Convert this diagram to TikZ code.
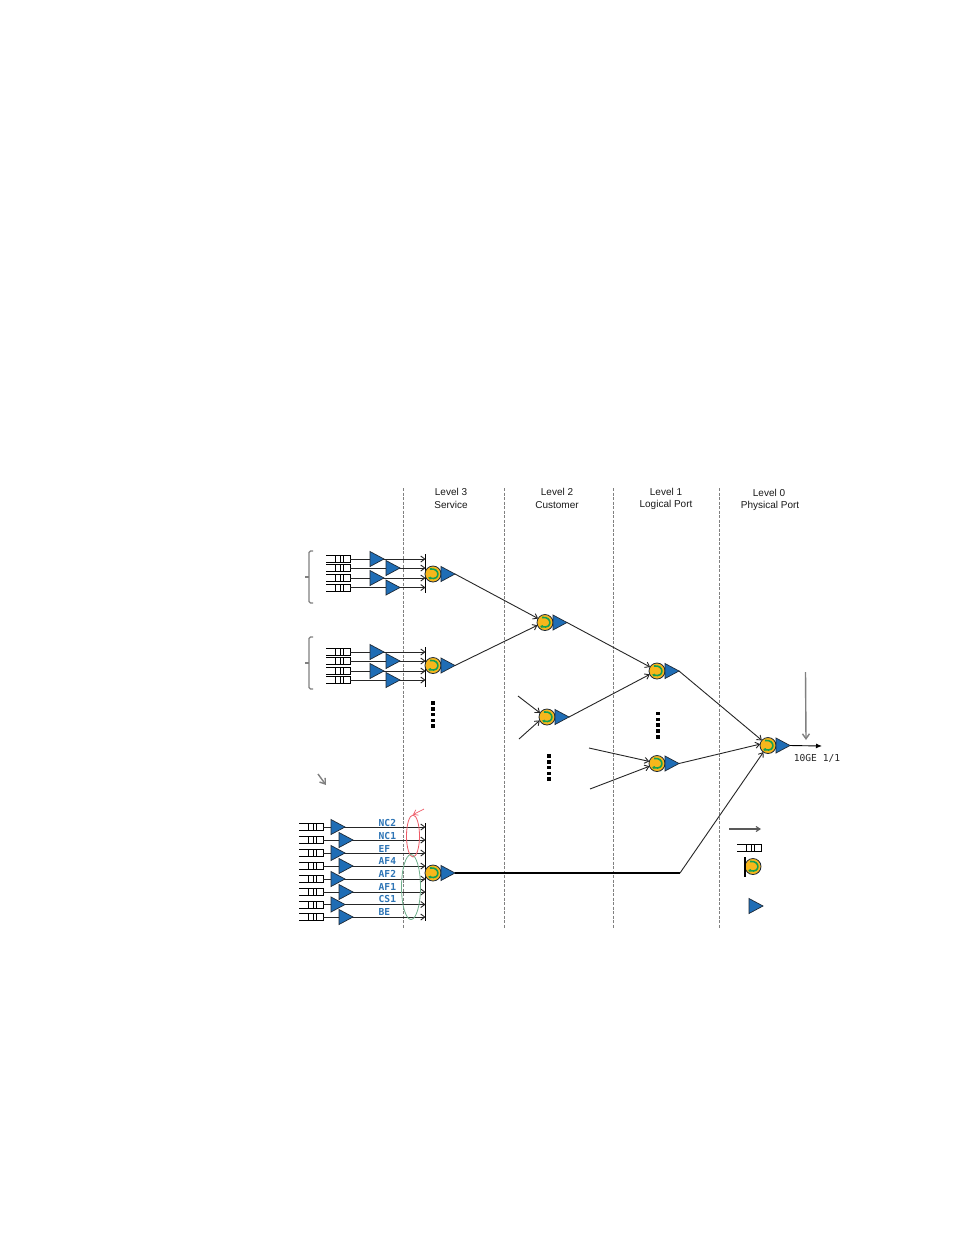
\documentclass[tikz,border=0pt]{standalone}
\usepackage{fontspec}
\setmainfont{Liberation Sans}
\newfontfamily\labelmono{DejaVu Sans Mono}
\usetikzlibrary{arrows.meta,shapes.geometric,calc}
\definecolor{shaperblue}{HTML}{1F6DB5}
\definecolor{schedgold}{HTML}{F7B71C}
\definecolor{schedgreen}{HTML}{14A050}
\definecolor{classblue}{HTML}{2E75B6}
\definecolor{outline}{HTML}{1F2A36}
\definecolor{guide}{HTML}{808080}
\definecolor{ovalred}{HTML}{EE5A66}
\definecolor{ovalgreen}{HTML}{6FB08C}
\tikzset{
  x=1pt,y=-1pt,
  shaper/.style={shape=isosceles triangle,isosceles triangle stretches,anchor=lower side,
    minimum width=15pt,minimum height=14pt,inner sep=0pt,outer sep=0pt,
    fill=shaperblue,draw=outline,line width=0.7pt},
  sched/.style={circle,minimum size=16pt,inner sep=0pt,outer sep=0pt,
    fill=schedgold,draw=outline,line width=0.8pt},
  qbox/.style={minimum width=24pt,minimum height=7pt,inner sep=0pt,outer sep=0pt},
  link/.style={draw=black!85,line width=0.9pt,-{Straight Barb[length=4pt,width=6pt]}},
  trunk/.style={draw=black,line width=1.7pt},
  level/.style={font=\fontsize{10}{12}\selectfont,inner sep=0pt,text=black!90},
  classlabel/.style={font=\labelmono\bfseries\fontsize{9.6}{11}\selectfont,text=classblue,anchor=west,inner sep=0pt},
  boundary/.style={draw=guide,dash pattern=on 3pt off 1.5pt},
  bracket/.style={draw=guide,line width=1.1pt,rounded corners=1.5pt},
  pointer/.style={draw=guide,line width=1.4pt,-{Straight Barb[length=5pt,width=7pt]}},
  bar/.style={draw=black,line width=0.9pt}
}
% queue: open on the left, closed on the right, with slot dividers
\newcommand{\queuebox}[3]{%
  \node[qbox] (#1) at (#2,#3) {};
  \draw[black,line width=0.8pt] (#1.north west) -- (#1.north east) -- (#1.south east) -- (#1.south west);
  \foreach \d in {9,14,17}{\draw[black,line width=0.9pt] ($(#1.north west)+(\d,0)$) -- ($(#1.south west)+(\d,0)$);}
}
% scheduler: gold circle with a green turning arrow
\newcommand{\schedulerdisc}[3]{%
  \node[sched] (#1) at (#2,#3) {};
  \draw[schedgreen,line width=1.6pt,-{Latex[length=2.6pt,width=3.6pt]}] ($(#1)+(-3,-5)$) .. controls ($(#1)+(7.5,-6.5)$) and ($(#1)+(7.5,7)$) .. ($(#1)+(-5,3.5)$);
}
% scheduler followed by its shaper
\newcommand{\schedshaper}[3]{%
  \schedulerdisc{#1}{#2}{#3}
  \node[shaper] (#1t) at (#2+8,#3) {};
}
% column of five small squares marking omitted entries
\newcommand{\omitted}[3]{%
  \foreach \k in {0,...,4}{\node[fill=black,minimum size=3.6pt,inner sep=0pt] (#1\k) at (#2,#3+\k*5.8) {};}
}
\begin{document}
\begin{tikzpicture}
\useasboundingbox (0,0) rectangle (954,1235);
\fill[white] (0,0) rectangle (954,1235);

% level boundaries
\draw[boundary,line width=0.8pt] (403.5,488) -- (403.5,928);
\draw[boundary,line width=1.3pt] (504.5,488) -- (504.5,928);
\draw[boundary,line width=0.8pt] (613,488) -- (613,928);
\draw[boundary,line width=0.8pt] (719,488) -- (719,928);

% level headings
\node[level] (h3a) at (451,492) {Level 3};
\node[level] (h3b) at (451,505) {Service};
\node[level] (h2a) at (557,492) {Level 2};
\node[level] (h2b) at (557,505) {Customer};
\node[level] (h1a) at (666,492) {Level 1};
\node[level] (h1b) at (666,505) {Logical Port};
\node[level] (h0a) at (769,493) {Level 0};
\node[level] (h0b) at (770,506) {Physical Port};

% first service group
\coordinate (barA) at (425.5,554);
\coordinate (barAend) at (425.5,593);
\draw[bar] (barA) -- (barAend);
\foreach \n/\y/\tx in {1/559/370,2/568/386,3/578/370,4/587.5/386}{
  \queuebox{qa\n}{338}{\y}
  \draw[link] (qa\n.east) -- (qa\n.east -| barA);
  \node[shaper] (ta\n) at (\tx,\y) {};
}
\schedshaper{sa}{433}{574}
\draw[bracket] (313,551) -- (309,551) -- (309,603) -- (313,603);
\draw[guide,line width=1.1pt] (309,577) -- (305,577);

% second service group
\coordinate (barB) at (425.5,647);
\coordinate (barBend) at (425.5,687);
\draw[bar] (barB) -- (barBend);
\foreach \n/\y/\tx in {1/652/370,2/661/386,3/671/370,4/680/386}{
  \queuebox{qb\n}{338}{\y}
  \draw[link] (qb\n.east) -- (qb\n.east -| barB);
  \node[shaper] (tb\n) at (\tx,\y) {};
}
\schedshaper{sb}{433}{665.5}
\draw[bracket] (313,637) -- (309,637) -- (309,689) -- (313,689);
\draw[guide,line width=1.1pt] (309,663) -- (305,663);

% per-class group at the bottom
\coordinate (barC) at (425.5,823);
\coordinate (barCend) at (425.5,921);
\draw[bar] (barC) -- (barCend);
\foreach \n/\y/\tx in {1/827/331,2/840/339,3/853/331,4/866/339,5/879/331,6/892/339,7/904.5/331,8/917/339}{
  \queuebox{qc\n}{311}{\y}
  \draw[link] (qc\n.east) -- (qc\n.east -| barC);
  \node[shaper] (tc\n) at (\tx,\y) {};
}
\schedshaper{sc}{433}{873}
\node[classlabel] (nc2) at (378.5,822.5) {NC2};
\node[classlabel] (nc1) at (378.5,835.5) {NC1};
\node[classlabel] (ef) at (378.5,848.5) {EF};
\node[classlabel] (af4) at (378.5,861) {AF4};
\node[classlabel] (af2) at (378.5,874) {AF2};
\node[classlabel] (af1) at (378.5,886.5) {AF1};
\node[classlabel] (cs1) at (378.5,899) {CS1};
\node[classlabel] (be) at (378.5,912) {BE};
\node[ellipse,draw=ovalred,line width=0.8pt,minimum width=13pt,minimum height=42pt,inner sep=0pt] (ovr) at (413,836) {};
\node[ellipse,draw=ovalgreen,line width=0.8pt,minimum width=19pt,minimum height=65pt,inner sep=0pt] (ovg) at (411,887) {};
\coordinate (redtail) at (424,809);
\draw[ovalred,line width=0.7pt,-{Straight Barb[length=4pt,width=6pt]}] (redtail) -- (ovr.north);
\coordinate (greytail) at (318,774);
\coordinate (greyhead) at (326,785);
\draw[pointer] (greytail) -- (greyhead);

% customer, logical port and physical port schedulers
\schedshaper{l2a}{545}{622.5}
\schedshaper{l2b}{547}{717}
\schedshaper{l1a}{657}{671}
\schedshaper{l1b}{657}{763.5}
\schedshaper{l0}{768}{745.5}

% tree connections
\draw[link] (sat.apex) -- (l2a.150);
\draw[link] (sbt.apex) -- (l2a.200);
\draw[link] (l2at.apex) -- (l1a.150);
\draw[link] (l2bt.apex) -- (l1a.205);
\draw[link] (l1at.apex) -- (l0.140);
\draw[link] (l1bt.apex) -- (l0.170);
\coordinate (kneeC) at (680,873);
\draw[trunk] (sct.apex) -- (kneeC);
\draw[link] (kneeC) -- (l0.235);

% feeds from schedulers not shown
\coordinate (f1) at (518,696);
\coordinate (f2) at (519,739);
\coordinate (f3) at (589,748);
\coordinate (f4) at (590,789);
\draw[link] (f1) -- (l2b.150);
\draw[link] (f2) -- (l2b.205);
\draw[link] (f3) -- (l1b.165);
\draw[link] (f4) -- (l1b.200);

% physical port output
\coordinate (portout) at (822,746);
\draw[draw=black,line width=0.9pt,-{Latex[length=6pt,width=5pt]}] (l0t.apex) -- (portout);
\node[font=\labelmono\fontsize{9.6}{11}\selectfont,inner sep=0pt,text=black!85] (port) at (817,758) {10GE 1/1};
\coordinate (pa) at (805.5,672);
\coordinate (pb) at (806,740);
\draw[pointer] (pa) -- (pb);

% omitted entries
\omitted{da}{433}{703}
\omitted{db}{549}{756}
\omitted{dc}{658}{713.5}

% key
\coordinate (ka) at (729,829);
\coordinate (kb) at (761,829);
\draw[draw=black!65,line width=1.1pt,-{Straight Barb[length=4pt,width=5pt]}] (ka) -- (kb);
\queuebox{kq}{749}{848}
\schedulerdisc{ks}{753}{866.5}
\coordinate (kbar) at (745,857);
\coordinate (kbarend) at (745,877);
\draw[black,line width=1.1pt] (kbar) -- (kbarend);
\node[shaper] (kt) at (749,906) {};
\end{tikzpicture}
\end{document}
